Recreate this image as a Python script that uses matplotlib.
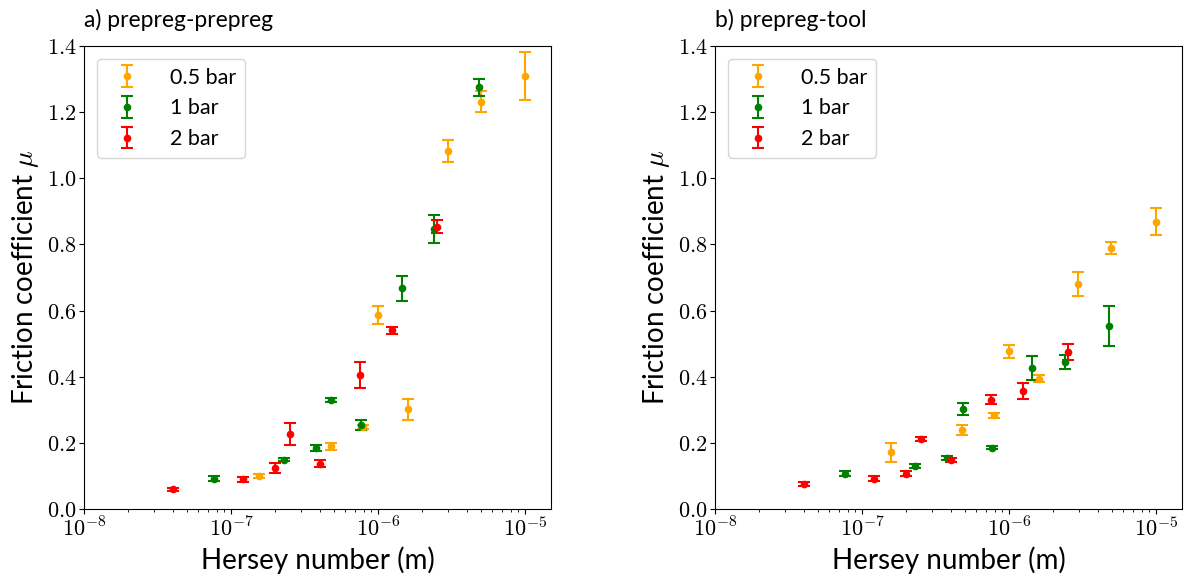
import numpy as np
import matplotlib
matplotlib.use('Agg')
import matplotlib.pyplot as plt
from matplotlib.ticker import FuncFormatter, LogLocator, NullFormatter

plt.rcParams['font.family'] = ['Lato', 'DejaVu Sans']
plt.rcParams['mathtext.fontset'] = 'cm'

labels = ['0.5 bar', '1 bar', '2 bar']
colors = ['orange', 'green', 'red']

# a) prepreg-prepreg
pp_x_05 = [1.55e-7, 4.75e-7, 7.9e-7, 1.0e-6, 1.6e-6, 3.0e-6, 5.0e-6, 1.0e-5]
pp_y_05 = [0.101, 0.190, 0.248, 0.587, 0.301, 1.083, 1.231, 1.309]
pp_e_05 = [0.006, 0.011, 0.007, 0.028, 0.032, 0.033, 0.032, 0.072]
pp_x_1 = [7.6e-8, 2.3e-7, 3.8e-7, 4.8e-7, 7.6e-7, 1.45e-6, 2.4e-6, 4.85e-6]
pp_y_1 = [0.092, 0.149, 0.185, 0.330, 0.255, 0.667, 0.847, 1.275]
pp_e_1 = [0.007, 0.005, 0.010, 0.007, 0.015, 0.037, 0.043, 0.025]
pp_x_2 = [4.0e-8, 1.2e-7, 2.0e-7, 2.5e-7, 4.0e-7, 7.5e-7, 1.25e-6, 2.5e-6]
pp_y_2 = [0.060, 0.090, 0.124, 0.226, 0.137, 0.404, 0.540, 0.854]
pp_e_2 = [0.005, 0.008, 0.015, 0.033, 0.010, 0.039, 0.010, 0.020]

# b) prepreg-tool
pt_x_05 = [1.57e-7, 4.75e-7, 7.9e-7, 1.0e-6, 1.6e-6, 2.95e-6, 4.9e-6, 1.0e-5]
pt_y_05 = [0.171, 0.239, 0.283, 0.477, 0.394, 0.680, 0.789, 0.869]
pt_e_05 = [0.028, 0.016, 0.008, 0.020, 0.010, 0.036, 0.018, 0.040]
pt_x_1 = [7.7e-8, 2.3e-7, 3.8e-7, 4.84e-7, 7.7e-7, 1.44e-6, 2.41e-6, 4.8e-6]
pt_y_1 = [0.107, 0.130, 0.155, 0.303, 0.185, 0.426, 0.444, 0.554]
pt_e_1 = [0.007, 0.006, 0.006, 0.019, 0.004, 0.036, 0.021, 0.060]
pt_x_2 = [4.0e-8, 1.2e-7, 2.0e-7, 2.5e-7, 4.0e-7, 7.5e-7, 1.25e-6, 2.5e-6]
pt_y_2 = [0.077, 0.092, 0.107, 0.211, 0.149, 0.331, 0.357, 0.475]
pt_e_2 = [0.006, 0.007, 0.007, 0.006, 0.006, 0.013, 0.024, 0.023]

panels = [
    ('a) prepreg-prepreg', [(pp_x_05, pp_y_05, pp_e_05), (pp_x_1, pp_y_1, pp_e_1), (pp_x_2, pp_y_2, pp_e_2)]),
    ('b) prepreg-tool', [(pt_x_05, pt_y_05, pt_e_05), (pt_x_1, pt_y_1, pt_e_1), (pt_x_2, pt_y_2, pt_e_2)]),
]

fig = plt.figure(figsize=(11.84, 5.82), dpi=100)
ax_pos = [[84 / 1184, 1 - 509 / 582, 467 / 1184, 463 / 582],
          [715 / 1184, 1 - 509 / 582, 467 / 1184, 463 / 582]]


def log_fmt(v, pos):
    e = int(round(np.log10(v)))
    return r'$10^{%d}$' % e


for pos, (title, series) in zip(ax_pos, panels):
    ax = fig.add_axes(pos)
    for (x, y, e), lab, c in zip(series, labels, colors):
        ax.errorbar(x, y, yerr=e, fmt='o', color=c, markersize=4.5,
                    capsize=4, elinewidth=1.5, capthick=1.5, label=lab)
    ax.set_xscale('log')
    ax.set_xlim(1e-8, 1.5e-5)
    ax.set_ylim(0, 1.4)
    ax.set_yticks(np.arange(0, 1.41, 0.2))
    ax.yaxis.set_major_formatter(FuncFormatter(lambda v, p: r'$%.1f$' % v))
    ax.xaxis.set_major_locator(LogLocator(base=10, numticks=10))
    ax.xaxis.set_minor_locator(LogLocator(base=10, subs=np.arange(2, 10), numticks=20))
    ax.xaxis.set_minor_formatter(NullFormatter())
    ax.xaxis.set_major_formatter(FuncFormatter(log_fmt))
    ax.tick_params(labelsize=16, pad=2)
    ax.set_xlabel('Hersey number (m)', fontsize=20)
    ax.set_ylabel(r'Friction coefficient $\mu$', fontsize=20)
    ax.set_title(title, loc='left', fontsize=16.5, pad=14)
    ax.legend(loc='upper left', fontsize=15.5, handletextpad=1.0,
              labelspacing=0.5, borderaxespad=0.6)

fig.savefig('out.png', dpi=100)
